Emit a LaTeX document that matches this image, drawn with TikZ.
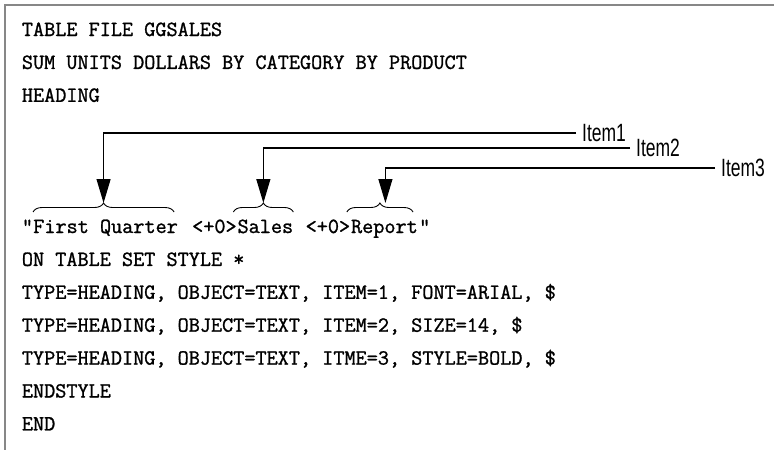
\documentclass[tikz,border=0pt]{standalone}
\usepackage{fontspec}
\newfontfamily\itemfont{Liberation Sans}
\newfontfamily\codefont{Latin Modern Mono}[AutoFakeBold=1.2]
\usetikzlibrary{arrows.meta,decorations.pathreplacing}
\newcommand\cw{11.35}
\begin{document}
\begin{tikzpicture}[x=1pt,y=-1pt,
        codeline/.style={anchor=base west,inner sep=0pt,font=\fontsize{21.6}{26}\selectfont\codefont\bfseries},
        itemlabel/.style={anchor=west,inner xsep=6pt,inner ysep=0pt,font=\fontsize{25}{30}\selectfont\itemfont},
        pointer/.style={line width=1.2pt,-{Triangle[length=24pt,width=14pt]}},
        wordbrace/.style={line width=0.9pt,decorate,decoration={brace,amplitude=9pt}}]
        \useasboundingbox (0,0) rectangle (774,450);
        \draw[black!47,line width=2pt] (774,4.5) -- (4.5,4.5) -- (4.5,450);
        % code lines
        \node [codeline] (tf) at (21.7,36) {TABLE FILE GGSALES};
        \node [codeline] (sum) at (21.7,68.9) {SUM UNITS DOLLARS BY CATEGORY BY PRODUCT};
        \node [codeline] (hd) at (21.7,101.8) {HEADING};
        \node [codeline] (oq) at (21.7,233) {“};
        \node [codeline] (w1) at ({21.7+\cw},233) {First Quarter};
        \node [codeline] (p1) at ({21.7+15*\cw},233) {<+0>};
        \node [codeline] (w2) at ({21.7+19*\cw},233) {Sales};
        \node [codeline] (p2) at ({21.7+25*\cw},233) {<+0>};
        \node [codeline] (w3) at ({21.7+29*\cw},233) {Report};
        \node [codeline] (cq) at ({21.7+35*\cw},233) {”};
        \node [codeline] (on) at (21.7,265.9) {ON TABLE SET STYLE *};
        \node [codeline] (ty1) at (21.7,298.8) {TYPE=HEADING, OBJECT=TEXT, ITEM=1, FONT=ARIAL, \$};
        \node [codeline] (ty2) at (21.7,331.7) {TYPE=HEADING, OBJECT=TEXT, ITEM=2, SIZE=14, \$};
        \node [codeline] (ty3) at (21.7,364.6) {TYPE=HEADING, OBJECT=TEXT, ITME=3, STYLE=BOLD, \$};
        \node [codeline] (es) at (21.7,397.5) {ENDSTYLE};
        \node [codeline] (en) at (21.7,430.4) {END};
        % braces over the items
        \coordinate (braceline) at (0,212);
        \coordinate (tipline) at (0,203);
        \draw[wordbrace] (w1.west |- braceline) -- ([xshift=-4pt]w1.east |- braceline);
        \draw[wordbrace] ([xshift=-4pt]w2.west |- braceline) -- (w2.east |- braceline);
        \draw[wordbrace] ([xshift=-4pt]w3.west |- braceline) -- ([xshift=-5pt]w3.east |- braceline);
        \coordinate (t1) at ([xshift=-2pt]w1.center |- tipline);
        \coordinate (t2) at ([xshift=-2pt]w2.center |- tipline);
        \coordinate (t3) at ([xshift=1pt]w3.center |- tipline);
        % labels
        \node [itemlabel] (it1) at (576,133) {\scalebox{0.7}[1]{Item1}};
        \node [itemlabel] (it2) at (630,148) {\scalebox{0.7}[1]{Item2}};
        \node [itemlabel] (it3) at (715,168) {\scalebox{0.7}[1]{Item3}};
        \draw[pointer] (it1.west) -| (t1);
        \draw[pointer] (it2.west) -| (t2);
        \draw[pointer] (it3.west) -| (t3);
    \end{tikzpicture}
\end{document}
